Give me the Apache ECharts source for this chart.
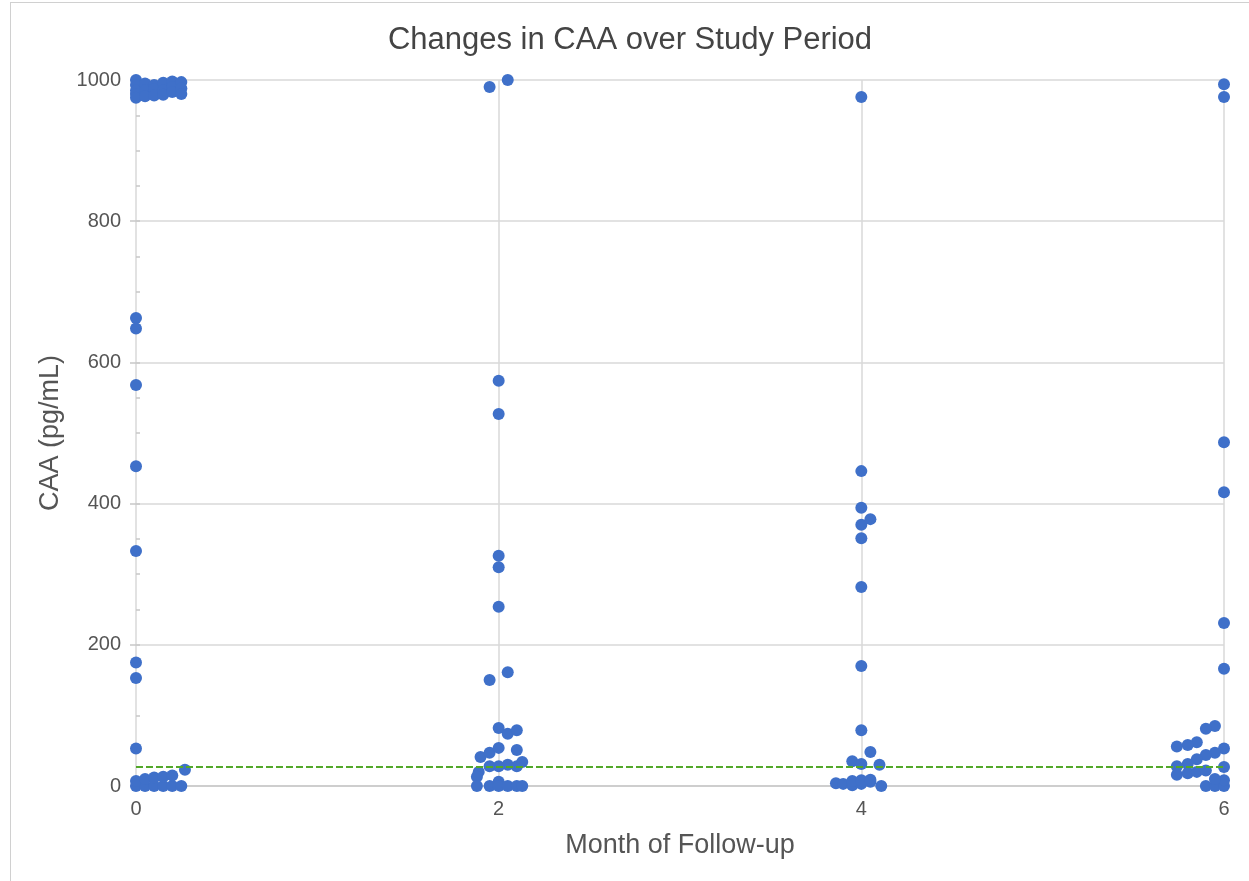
<!DOCTYPE html>
<html>
<head>
    <meta charset="UTF-8">
    <title>Changes in CAA</title>
    <script src="https://cdn.jsdelivr.net/npm/echarts@6/dist/echarts.min.js"></script>
    <style>
        html, body { margin: 0; padding: 0; background: #fff; overflow: hidden; }
        #frame { position: absolute; left: 10px; top: 2px; width: 1245px; height: 885px; border: 1px solid #d0d0d0; box-sizing: border-box; }
        #main { position: absolute; left: 0; top: 0; width: 1249px; height: 881px; }
    </style>
</head>
<body>
    <div id="frame"></div>
    <div id="main"></div>
    <script type="text/javascript">
        // month 0 (points spread slightly to the right of x=0)
        var m0x = [0, 0, 0, 0, 0, 0.05, 0.05, 0.05, 0.1, 0.1, 0.1, 0.15, 0.15, 0.15, 0.2, 0.2, 0.2, 0.25, 0.25, 0.25,
            0, 0, 0, 0, 0, 0, 0, 0,
            0, 0.05, 0.1, 0.15, 0.2, 0.25,
            0, 0.05, 0.1, 0.15, 0.2, 0.27];
        var m0y = [1000, 993, 985, 980, 975, 995, 985, 977, 993, 987, 978, 996, 985, 979, 998, 990, 983, 997, 988, 980,
            663, 648, 568, 453, 333, 175, 153, 53,
            0, 0, 0, 0, 0, 0,
            7, 10, 12, 13, 15, 23];

        // month 2
        var m2x = [1.95, 2.05, 2, 2, 2, 2, 2, 1.95, 2.05, 2, 2.05, 2.1, 1.9, 1.95, 2, 2.1,
            1.95, 2, 2.05, 2.1, 2.13, 1.89, 1.88, 1.88, 1.95, 2, 2, 2.05, 2.1, 2.13];
        var m2y = [990, 1000, 574, 527, 326, 310, 254, 150, 161, 82, 74, 79, 41, 47, 54, 51,
            28, 28, 30, 28, 34, 20, 13, 0, 0, 6, 0, 0, 0, 0];

        // month 4
        var m4x = [4, 4, 4, 4, 4.05, 4, 4, 4, 4, 4.05, 3.95, 4, 4.1, 3.86, 3.9, 3.95, 4, 4.05, 4.11, 3.95, 4, 4.05];
        var m4y = [976, 446, 394, 370, 378, 351, 282, 170, 79, 48, 35, 31, 30, 4, 3, 1, 3, 6, 0, 7, 8, 9];

        // month 6 (points spread to the left of x=6)
        var m6x = [6, 6, 6, 6, 6, 6, 5.95, 5.9, 5.85, 5.8, 5.74, 6, 5.95, 5.9, 5.85, 5.8, 5.74,
            6, 5.74, 5.8, 5.85, 5.9, 5.9, 5.95, 6, 6, 5.95];
        var m6y = [994, 976, 487, 416, 231, 166, 85, 81, 62, 58, 56, 53, 47, 44, 38, 31, 28,
            27, 16, 18, 20, 22, 0, 0, 0, 8, 10];

        var xTicks = [0, 2, 4, 6];
        var yTicks = [0, 200, 400, 600, 800, 1000];
        var threshold = 27;

        function pairs(xs, ys) {
            var out = [];
            for (var i = 0; i < xs.length; i++) {
                out.push([xs[i], ys[i]]);
            }
            return out;
        }

        var dotColor = '#3f70c9';
        var gridColor = '#d9d9d9';
        var textColor = '#555';
        var font = 'Liberation Sans, Arial, sans-serif';

        function dots(name, xs, ys) {
            return {
                name: name,
                type: 'scatter',
                symbolSize: 12,
                itemStyle: { color: dotColor, opacity: 1 },
                data: pairs(xs, ys)
            };
        }

        var myChart = echarts.init(document.getElementById('main'));

        var series = [
            dots('m0', m0x, m0y),
            dots('m2', m2x, m2y),
            dots('m4', m4x, m4y),
            dots('m6', m6x, m6y)
        ];
        // threshold line
        series[0].markLine = {
            silent: true,
            symbol: 'none',
            label: { show: false },
            lineStyle: { color: '#52a829', type: [7, 3], width: 2.2, opacity: 1 },
            data: [{ yAxis: threshold }]
        };

        myChart.setOption({
            animation: false,
            title: {
                text: 'Changes in CAA over Study Period',
                left: 625,
                textAlign: 'center',
                top: 20,
                textStyle: { fontFamily: font, fontSize: 31, fontWeight: 'normal', color: '#444' }
            },
            grid: { left: 136, right: 25, top: 80, bottom: 95 },
            xAxis: {
                type: 'value',
                min: xTicks[0],
                max: xTicks[xTicks.length - 1],
                interval: 2,
                name: 'Month of Follow-up',
                nameLocation: 'middle',
                nameGap: 46,
                nameTextStyle: { fontFamily: font, fontSize: 27, color: textColor },
                axisLine: { show: true, lineStyle: { color: '#c8c8c8', width: 1.5 } },
                axisTick: { show: false },
                axisLabel: { margin: 13, fontFamily: font, fontSize: 20, color: textColor },
                splitLine: { show: true, lineStyle: { color: gridColor, width: 1.5 } }
            },
            yAxis: [{
                type: 'value',
                min: yTicks[0],
                max: yTicks[yTicks.length - 1],
                interval: 200,
                name: 'CAA (pg/mL)',
                nameLocation: 'middle',
                nameGap: 72,
                nameTextStyle: { fontFamily: font, fontSize: 27, color: textColor },
                axisLine: { show: false },
                axisTick: { show: true, length: 6, lineStyle: { color: '#c8c8c8', width: 1.5 } },
                axisLabel: {
                    margin: 15, fontFamily: font, fontSize: 20, color: textColor,
                    formatter: function (v) { return String(v); }
                },
                splitLine: { show: true, lineStyle: { color: gridColor, width: 1.5 } }
            }, {
                // small inner ticks every 50
                type: 'value',
                position: 'left',
                min: 0,
                max: 1000,
                interval: 50,
                axisLine: { show: false },
                axisTick: { show: true, inside: true, length: 4, lineStyle: { color: '#c8c8c8', width: 1.5 } },
                axisLabel: { show: false },
                splitLine: { show: false }
            }],
            series: series
        });
    </script>
</body>
</html>
